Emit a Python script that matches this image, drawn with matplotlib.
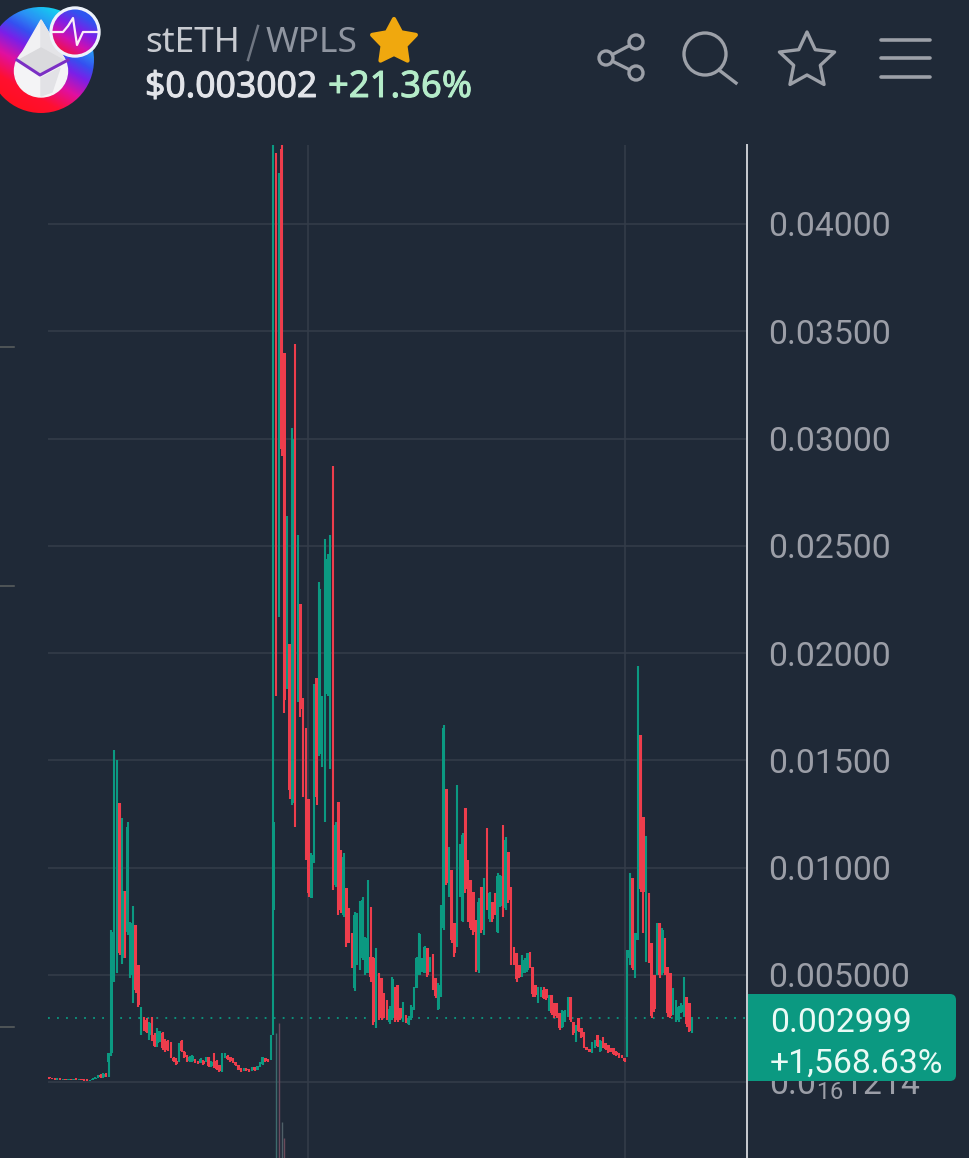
import numpy as np
import matplotlib
matplotlib.use("Agg")
import matplotlib.pyplot as plt
import matplotlib.patheffects as pe
from matplotlib.patches import Circle, Polygon, Rectangle, FancyBboxPatch, Ellipse
from matplotlib.colors import LinearSegmentedColormap

plt.rcParams['font.family'] = ['Roboto', 'DejaVu Sans']
plt.rcParams['mathtext.fontset'] = 'custom'
plt.rcParams['mathtext.rm'] = 'Roboto'
plt.rcParams['mathtext.default'] = 'regular'

# candles are (open, high, low, close), prices in units of 0.001
flat_start = [(.22,.24,.16,.18),(.18,.2,.12,.14),(.14,.18,.1,.12),(.12,.17,.1,.15),(.15,.17,.1,.12),(.12,.16,.1,.14),
              (.14,.16,.09,.1),(.1,.15,.08,.13),(.13,.15,.09,.1),(.1,.16,.08,.14),(.14,.17,.1,.12),(.12,.16,.1,.14),
              (.14,.16,.08,.1),(.1,.14,.06,.08),(.08,.12,.05,.07),(.07,.11,.05,.1),(.1,.18,.08,.16),(.16,.22,.14,.2),
              (.2,.34,.18,.32),(.32,.38,.2,.24),(.24,.42,.2,.36),(.36,.4,.22,.3)]
first_pump = [(.93,1.35,.25,1.35),(1.35,7.1,1.2,7.0),(7,15.5,4.66,14),(5.2,15,5.1,15),(13,13,5.9,6),(5.8,12.3,5.5,8.9),
              (8.9,8.9,5.8,5.9),(7,12.1,6.85,11.9),(5,7.45,4.85,7.4),(3.8,8.2,3.7,8.1),(7.3,7.3,4.15,4.3),(5.45,5.45,3.5,3.6)]
slow_decline = [(2.4,3.5,2.2,3.3),(3,3.05,2.4,2.5),(2.9,3,2.3,2.35),(2.2,2.8,1.95,2.75),(2.9,3.05,1.9,2),(2.2,2.3,1.65,1.7),
                (1.8,2.5,1.65,2.4),(1.9,2.4,1.85,2.3),(2.3,2.35,1.5,1.6),(1.9,2,1.4,1.5),(1.85,1.95,1.45,1.5),(1.7,1.85,1.1,1.15),
                (1.1,1.15,.95,1),(1,1.1,.8,.85),(1,1.8,.95,1.75),(1.9,1.95,1.4,1.45),(1.4,1.45,1.1,1.15),(1.2,1.25,.95,1),
                (.97,1.2,.92,1.15),(1,1.25,.95,1.2),(1.03,1.05,.9,.93),(.98,1,.85,.88),(.9,1.1,.87,1.05),
                (1,1.03,.79,.82),(.97,1.18,.95,1.15),(1.15,1.18,.71,.75),(.75,1,.72,.95),(1.3,1.34,.64,.7),(1,1.03,.56,.6),
                (.77,.79,.48,.5),(.52,1.34,.48,1.3),(1.12,1.34,1.1,1.3),(1.22,1.26,1.03,1.05),(1.15,1.18,.95,.98),(1.08,1.1,.87,.9),
                (.93,.95,.75,.78),(.77,.79,.56,.58),(.62,.64,.48,.5),(.55,.64,.53,.62),(.62,.64,.53,.55),(.57,.59,.47,.49),
                (.55,.71,.53,.69),(.68,.7,.53,.55),(.58,.75,.56,.73),(.7,.95,.68,.93),(.82,1.18,.79,1.15),(1.1,1.13,.95,.98),
                (1.03,1.05,.95,.97),(1.05,2.19,1.03,2.15)]
second_pump = [(8,44.5,2.2,12.1),(42,43.3,18,19),(21.8,42.4,21.7,42),(43.5,43.7,29.2,29.5),(34,34,17.2,17.8),(20.4,26.4,18.3,26),
               (20.4,20.4,13.2,13.6),(13,30.5,12.9,30),(34.4,34.4,11.9,12.5),(17.8,25.5,17.7,25.2),(22.3,22.3,17,17.4),(17.9,17.9,13.3,13.6),
               (16.5,16.5,10.35,13.2),(13.2,13.2,8.64,8.8),(8.6,10.66,8.56,10.6),(10.4,18.55,10.2,18.3),(18.85,18.85,12.9,13.3),(15.3,23.3,15.2,23),
               (14.8,18,14.7,17.8),(12.3,25.3,12.1,25),(18.1,24.6,18,24.4),(14.7,25.5,14.6,25.3),(19.8,28.7,8.95,15.6),(9.2,12.1,9.1,12),
               (13.07,13.07,7.8,8),(10.8,10.8,7.86,8),(7.8,10.66,7.7,10.5),(9.03,9.03,6.3,6.5),(8.1,8.1,6.46,6.6),(6.93,6.93,5.3,5.4),
               (4.4,7.94,4.26,7.8),(5.5,7.86,5.45,7.7),(5.3,8.45,5.22,8.3),(5.8,8.64,5.7,8.5),(5.1,6.78,5,6.7),(5.2,9.42,5.07,9.3),
               (5.84,8.17,4.68,4.9),(5.77,5.84,2.66,2.8),(2.6,6.23,2.5,6.1),(5.07,5.07,2.9,3),(4.83,4.83,2.9,3),(4.13,4.13,3,3.05),(3.82,3.82,2.9,3)]
third_pump = [(2.8,3.54,2.7,3.4),(3,4.88,2.9,4.8),(4.44,4.44,2.8,2.9),(4.52,4.52,2.8,2.9),(3.43,3.43,2.9,3),(2.9,3.75,2.8,3.6),
              (3.12,3.12,2.73,2.8),(2.7,3.08,2.66,3),(3,3.59,2.9,3.5),(3.4,4.44,3.36,4.4),(4.4,5.84,4.37,5.8),(5,6.96,5,6.9),
              (5.2,5.77,5.14,5.7),(5.1,6.34,5.07,6.3),(6.23,6.23,4.9,5),(5.2,5.84,5.14,5.8),(5.95,5.95,4.29,4.4),(4.83,4.83,3.9,4),
              (3.4,4.6,3.36,4.5),(4,8.25,3.98,8.2),(7.2,16.64,7.09,16.5),(13.64,13.64,9.18,9.3),(8.7,10.97,8.64,10.9),(9.88,9.88,6.46,6.6),
              (7.4,7.4,5.84,6),(6.4,13.85,6.3,13.7),(8.7,11.1,8.64,11),(7.5,11.6,7.47,11.5),(12.76,12.76,8.8,9),(10.35,10.35,7.47,7.6),
              (9.42,9.42,7.09,7.2),(8.87,8.87,6.85,7),(7.55,7.55,5.14,5.3),(5.2,8.56,5.1,8.4),(9.1,9.1,6.93,7.1),(6.9,9.5,6.85,9.3),
              (11.83,11.83,8.02,8.2),(7.6,8.87,7.47,8.8),(8.41,8.41,7.47,7.6),(8.8,8.8,7.79,7.9),(7,9.73,6.93,9.6),(8.2,9.65,8.17,9.6),
              (11.98,11.98,7.71,7.9),(8.1,11.4,8.02,11.3),(10.74,10.74,8.33,8.5),(9.1,9.1,5.45,5.6),(6.31,6.31,5.45,5.6),(6,6,4.68,4.8),
              (5.45,5.45,4.83,4.9),(5,5.92,4.91,5.8),(5.1,5.77,5.07,5.7),(5.2,6.03,5.14,6),(6.08,6.08,5.3,5.4)]
long_slide = [(5.38,5.38,3.98,4.1),(4.52,4.52,3.98,4.05),(3.7,4.44,3.67,4.4),(4.2,4.44,3.98,4.3),(4.3,4.44,3.85,3.9),(4.32,4.32,3.82,3.9),
              (3.4,4.06,3.3,4),(4.06,4.06,3.12,3.2),(3.7,3.7,3,3.1),(3.67,3.67,2.97,3),(3.2,3.2,2.42,2.5),(2.55,3.36,2.5,3.3),
              (2.85,3.36,2.8,3.3),(3.1,3.98,3.05,3.9),(3.98,3.98,2.8,2.9),(2.8,2.8,2.19,2.3),(1.95,2.66,1.88,2.6),(3,3,2.35,2.4),
              (2.5,2.5,2.04,2.1),(2.35,2.35,1.57,1.6),(1.65,1.65,1.49,1.5),(1.55,1.55,1.4,1.42),(1.4,1.88,1.34,1.85),(1.6,1.96,1.57,1.9),
              (2.19,2.19,1.65,1.7),(1.45,1.96,1.41,1.9),(2.1,2.1,1.57,1.6),(1.8,1.8,1.49,1.55),(1.72,1.72,1.34,1.4),(1.55,1.6,1.4,1.45),
              (1.57,1.57,1.26,1.3),(1.4,1.45,1.2,1.25),(1.34,1.34,1.1,1.15),(1.26,1.26,1.1,1.12),(1.1,1.1,.95,1)]
last_pump = [(5.76,6.15,1.18,6.15),(5.5,9.76,5.45,9.7),(9.5,9.5,5.2,5.3),(6.6,6.93,4.83,6.93),(6.7,19.4,6.62,19.3),(16.18,16.18,8.87,9),
             (12.37,12.37,6.93,8.87),(5.7,11.47,5.6,11.4),(8.8,8.8,5.53,5.7),(6.46,6.46,2.97,3.1),(5,5,3.28,3.4),(5.1,7.4,5,7.3),
             (7.4,7.4,4.83,5),(5.1,7.16,5,7.1),(6.7,6.7,5,5.1),(5.38,5.38,3.05,3.2),(5.07,5.07,2.97,3.1),(3.2,4.37,3.12,4.3),
             (2.9,3.82,2.81,3.7),(2.9,3.54,2.81,3.5),(3.25,3.67,3.2,3.6),(3.1,4.91,3.05,4.85),(3.98,3.98,2.58,2.7),(3.67,3.67,2.35,2.4),
             (2.3,3.05,2.27,3)]

# faint long lower wicks under the big pump, they run off the bottom of the chart
ghost_candle = [84, 85, 86, 87]
ghost_top = [2.3, 2.75, -1.86, -2.6]
ghost_color = ['#3d6a6c', '#6b4a5e', '#4f6068', '#6b4a5a']

y_ticks = [0.04, 0.035, 0.03, 0.025, 0.02, 0.015, 0.01, 0.005, 0.0]
y_labels = ['0.04000', '0.03500', '0.03000', '0.02500', '0.02000', '0.01500', '0.01000', '0.005000', '0.0$_{16}$1214']
x_gridlines = [95.6, 213.0]
last_price = 0.002999

BG = '#1f2937'
GREEN = '#0b9981'
RED = '#ee3d4c'
GRID = '#343d4a'
LABEL = '#9b9ea7'

candles = flat_start + first_pump + slow_decline + second_pump + third_pump + long_slide + last_pump
o, h, l, c = (np.array(v) / 1000 for v in zip(*candles))
idx = np.arange(len(candles))
cols = [GREEN if b >= a else RED for a, b in zip(o, c)]

fig = plt.figure(figsize=(9.7, 11.58), dpi=100, facecolor=BG)
ax = fig.add_axes([48 / 970, 0, 699 / 970, 1013 / 1158], facecolor=BG)
ax.set_xlim(-0.5, 258.34)
ax.set_ylim(-76 / 21450, 937 / 21450)

ax.vlines(ghost_candle, -76 / 21450, np.array(ghost_top) / 1000, colors=ghost_color, lw=1.0, zorder=2)
ax.vlines(idx, l, h, colors=cols, lw=1.5, zorder=3)
ax.bar(idx, np.abs(c - o), bottom=np.minimum(o, c), width=0.95, color=cols, zorder=3)
ax.axhline(last_price, color=GREEN, lw=1.3, ls=(0, (1, 4)), zorder=2)

ax.yaxis.tick_right()
ax.set_yticks(y_ticks, y_labels, color=LABEL, fontsize=24.3)
ax.set_xticks(x_gridlines, ['', ''])
ax.tick_params(length=0, pad=15.5)
ax.grid(True, color=GRID, lw=1.1, zorder=1)
for side in ['top', 'left', 'bottom']:
    ax.spines[side].set_visible(False)
ax.spines['right'].set_color('#c9ccd2')
ax.spines['right'].set_linewidth(1.4)

# overlay in pixel coordinates for the app header, the price tag and the icons
top = fig.add_axes([0, 0, 1, 1], facecolor='none')
top.axis('off')

ring = LinearSegmentedColormap.from_list('ring', [(0, '#12d5f0'), (.2, '#2a90f5'), (.33, '#3550f0'), (.45, '#7a20e8'),
                                                  (.62, '#e010a0'), (.82, '#ff0f30'), (1, '#ff1020')])
yy, xx = np.mgrid[0:120, 0:110]
slant = ((xx - 41) * -.5 + (yy - 60) * .86) / 53
logo = top.imshow(slant, cmap=ring, vmin=-1, vmax=1, extent=(0, 110, 120, 0), aspect='auto', zorder=2)
logo.set_clip_path(Circle((41, 60), 53, transform=top.transData))

top.add_patch(Ellipse((41, 71), 53, 52, color='#f4f4f6', zorder=3))
top.add_patch(Polygon([(41, 78), (60, 68), (52, 92), (41, 96)], color='#e2e2e6', zorder=3))
top.add_patch(Polygon([(41, 20), (65, 60), (41, 75), (18, 60)], color='#f1f1f3', zorder=3))
top.add_patch(Polygon([(41, 20), (65, 60), (41, 50)], color='#e4e4e7', zorder=3))
top.add_patch(Polygon([(41, 48), (63, 60), (41, 73), (19, 60)], color='#dadadd', zorder=3))
top.plot([17, 40, 68], [60, 75, 60], color='#7b2fc4', lw=2.2, zorder=4)

top.add_patch(Circle((75, 32), 25, color='#eef3fb', zorder=5))
yy2, xx2 = np.mgrid[8:56, 52:98]
badge_fill = ((xx2 - 75) * -.5 + (yy2 - 32) * .86) / 23
mini = LinearSegmentedColormap.from_list('mini', ['#2f55f0', '#7a20e8', '#d010b0', '#f0104a'])
badge = top.imshow(badge_fill, cmap=mini, vmin=-.8, vmax=1, extent=(52, 98, 56, 8), aspect='auto', zorder=6)
badge.set_clip_path(Circle((75, 32), 22.5, transform=top.transData))
top.plot([53, 63, 68, 73, 77, 83, 98], [32, 32, 26, 18, 45, 32, 32], color='#fbeef8', lw=1.6, zorder=7)

top.text(145, 52, 'stETH', family='Noto Sans', color='#c8cbd1', fontsize=25.4, va='baseline', ha='left')
top.plot([248, 258], [60, 26], color='#6f7682', lw=1.8)
top.text(266, 52, 'WPLS', family='Noto Sans', color='#8f95a0', fontsize=25.4, va='baseline', ha='left')
price = top.text(145, 97, '$0.003002', family='Noto Sans', color='#e2e4e9', fontsize=25.6, va='baseline', ha='left')
change = top.text(328, 97, '+21.36%', family='Noto Sans', color='#b5ecc9', fontsize=26.2, va='baseline', ha='left')
price.set_path_effects([pe.withStroke(linewidth=0.7, foreground='#e2e4e9')])
change.set_path_effects([pe.withStroke(linewidth=0.7, foreground='#b5ecc9')])


def star(cx, cy, r_out, r_in):
    a = np.deg2rad(-90 + 36 * np.arange(10))
    r = np.where(np.arange(10) % 2 == 0, r_out, r_in)
    return np.column_stack([cx + r * np.cos(a), cy + r * np.sin(a)])


top.add_patch(Polygon(star(394, 42, 23, 12), color='#f0a80e', joinstyle='round', lw=3, zorder=3))
top.add_patch(Polygon(star(807, 61, 29, 14), fill=False, ec='#9ca0a8', lw=2.4, joinstyle='round'))

ICON = '#9ca0a8'
top.plot([636, 606, 636], [42, 58, 73], color=ICON, lw=2.4, zorder=3)
for cx, cy in [(636, 42), (606, 58), (636, 73)]:
    top.add_patch(Circle((cx, cy), 7, fc=BG, ec=ICON, lw=2.4, zorder=4))
top.add_patch(Circle((705, 54), 21, fc='none', ec=ICON, lw=2.4))
top.plot([719, 736], [70, 83], color=ICON, lw=2.4)
for yy_line in [40, 58, 77]:
    top.plot([881, 930], [yy_line, yy_line], color=ICON, lw=2.6, solid_capstyle='round')

for yy_tick in [347, 586, 1027]:
    top.plot([0, 14], [yy_tick, yy_tick], color='#5c6060', lw=1.1)

top.add_patch(FancyBboxPatch((749, 994), 207, 87, boxstyle='round,pad=0,rounding_size=6', fc=GREEN, ec='none', zorder=8))
top.add_patch(Rectangle((748, 994), 12, 87, fc=GREEN, ec='none', zorder=8))
top.text(770, 1019, '0.002999', color='#eafaf5', fontsize=24.3, va='center_baseline', ha='left', zorder=9)
top.text(770, 1060, '+1,568.63%', color='#eafaf5', fontsize=24.3, va='center_baseline', ha='left', zorder=9)

top.set_xlim(0, 970)
top.set_ylim(1158, 0)

fig.savefig('out.png', dpi=100, facecolor=BG)
